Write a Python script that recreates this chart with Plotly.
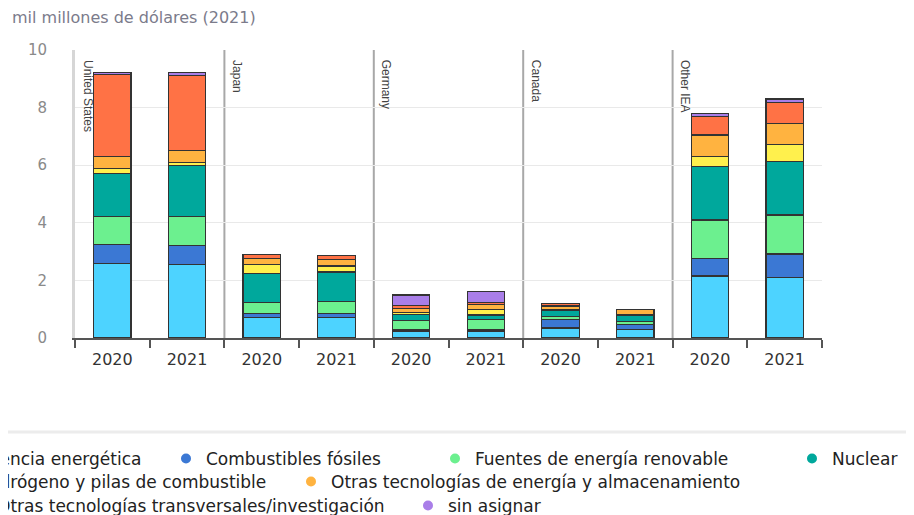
import plotly.graph_objects as go

# ---------------- data ----------------
countries = ["United States", "Japan", "Germany", "Canada", "Other IEA"]
years = ["2020", "2021"]

series_names = [
    "Eficiencia energética",
    "Combustibles fósiles",
    "Fuentes de energía renovable",
    "Nuclear",
    "Hidrógeno y pilas de combustible",
    "Otras tecnologías de energía y almacenamiento",
    "Otras tecnologías transversales/investigación",
    "sin asignar",
]

# order: US20, US21, JP20, JP21, DE20, DE21, CA20, CA21, OT20, OT21
eficiencia = [2.60, 2.54, 0.72, 0.72, 0.23, 0.23, 0.35, 0.29, 2.15, 2.09]
fosiles = [0.64, 0.67, 0.14, 0.14, 0.05, 0.05, 0.29, 0.17, 0.60, 0.83]
renovable = [0.99, 1.02, 0.38, 0.42, 0.32, 0.35, 0.12, 0.12, 1.35, 1.35]
nuclear = [1.47, 1.76, 0.99, 1.01, 0.23, 0.17, 0.21, 0.20, 1.85, 1.85]
hidrogeno = [0.19, 0.11, 0.31, 0.21, 0.06, 0.19, 0.00, 0.02, 0.35, 0.61]
otras_energia = [0.41, 0.41, 0.23, 0.23, 0.14, 0.17, 0.14, 0.20, 0.75, 0.72]
transversales = [2.84, 2.60, 0.13, 0.14, 0.09, 0.08, 0.09, 0.00, 0.64, 0.73]
sin_asignar = [0.07, 0.12, 0.00, 0.00, 0.37, 0.37, 0.00, 0.00, 0.11, 0.12]

y_ticks = [0, 2, 4, 6, 8, 10]
title_text = "mil millones de dólares (2021)"

# ---------------- style ----------------
colors = ["#4dd3ff", "#3b78d4", "#6cf08f", "#00a89c",
          "#fff04d", "#ffb340", "#ff7245", "#a97ee8"]
FONT = "DejaVu Sans"

all_series = [eficiencia, fosiles, renovable, nuclear,
              hidrogeno, otras_energia, transversales, sin_asignar]

n_years = len(years)
n_cat = len(countries) * n_years
xpos = list(range(n_cat))
xlabels = [y for c in countries for y in years]

fig = go.Figure()
for name, vals, col in zip(series_names, all_series, colors):
    fig.add_trace(go.Bar(
        x=xpos, y=[v if v > 0 else None for v in vals], name=name,
        marker=dict(color=col, line=dict(color="#333333", width=1.2)),
        width=0.5, showlegend=False, hoverinfo="y+name",
    ))

# page body has an 8px margin -> figure positioned at (8, 8)
OFF = 8
W, H = 914 - OFF, 515 - OFF
L = 75 - OFF
T = 50 - OFF
R = W - (822 - OFF)
B = H - (338 - OFF)
pw, ph = W - L - R, H - T - B


def px2x(px):
    return (px - OFF - L) / pw


def px2y(py):
    return (H - B - (py - OFF)) / ph


legend_specs = [
    # (x_px in window, anchor, y_px in window)
    (147, "right", 459),
    (166, "left", 459),
    (435, "left", 459),
    (792, "left", 459),
    (272, "right", 482),
    (291, "left", 482),
    (390, "right", 506),
    (408, "left", 506),
]
layout_legends = {}
for i, (name, col, spec) in enumerate(zip(series_names, colors, legend_specs)):
    key = "legend" if i == 0 else f"legend{i+1}"
    fig.add_trace(go.Scatter(
        x=[None], y=[None], mode="markers", name=name,
        marker=dict(color=col, size=10, symbol="circle"),
        legend=key, showlegend=True, hoverinfo="skip",
    ))
    xp, anc, yp = spec
    layout_legends[key] = dict(
        x=px2x(xp), xanchor=anc, y=px2y(yp), yanchor="middle",
        orientation="h", bgcolor="rgba(0,0,0,0)", borderwidth=0,
        font=dict(family=FONT, size=17, color="#222"),
        itemclick=False, itemdoubleclick=False,
    )

# facet separators
shapes = []
for k in range(1, len(countries)):
    xb = k * n_years - 0.5
    shapes.append(dict(type="line", xref="x", yref="y", x0=xb, x1=xb,
                       y0=0, y1=10.1, line=dict(color="#a8a8a8", width=2),
                       layer="below"))
# separator line above legend
shapes.append(dict(type="line", xref="paper", yref="paper",
                   x0=px2x(0), x1=px2x(914), y0=px2y(432), y1=px2y(432),
                   line=dict(color="#ececec", width=3)))

# facet labels
annotations = []
for k, c in enumerate(countries):
    annotations.append(dict(
        text=c, xref="x", yref="y", x=k * n_years - 0.5, y=10,
        xanchor="left", yanchor="top", xshift=4, yshift=-8,
        textangle=90, showarrow=False,
        font=dict(family="Liberation Sans", size=12, color="#444"),
    ))

boundaries = [i - 0.5 for i in range(n_cat + 1)]

fig.update_layout(
    width=W, height=H,
    margin=dict(l=L, r=R, t=T, b=B, autoexpand=False),
    barmode="stack",
    plot_bgcolor="white", paper_bgcolor="white",
    title=dict(text=title_text, x=(12 - OFF) / W, xanchor="left",
               y=1 - (17 - OFF) / H, yanchor="middle",
               xref="container", yref="container",
               font=dict(family=FONT, size=16, color="#7b7b8b")),
    shapes=shapes,
    annotations=annotations,
    **layout_legends,
)
fig.update_xaxes(
    range=[-0.5, n_cat - 0.5], tickvals=xpos, ticktext=xlabels,
    showgrid=False, zeroline=False, showline=True, linecolor="#555",
    linewidth=1.5, ticks="", ticklabelstandoff=6,
    tickfont=dict(family=FONT, size=16, color="#333"),
    minor=dict(tickvals=boundaries, ticks="outside", ticklen=8,
               tickcolor="#555", tickwidth=1.5, showgrid=False),
)
fig.update_yaxes(
    range=[0, 10], tickvals=y_ticks, showgrid=True, gridcolor="#e9e9e9",
    gridwidth=1, zeroline=False, showline=True, linecolor="#d6d6d6",
    linewidth=3, ticks="", ticklabelstandoff=22,
    tickfont=dict(family=FONT, size=15, color="#8a8a8a"),
)

fig.write_html("out.html")
